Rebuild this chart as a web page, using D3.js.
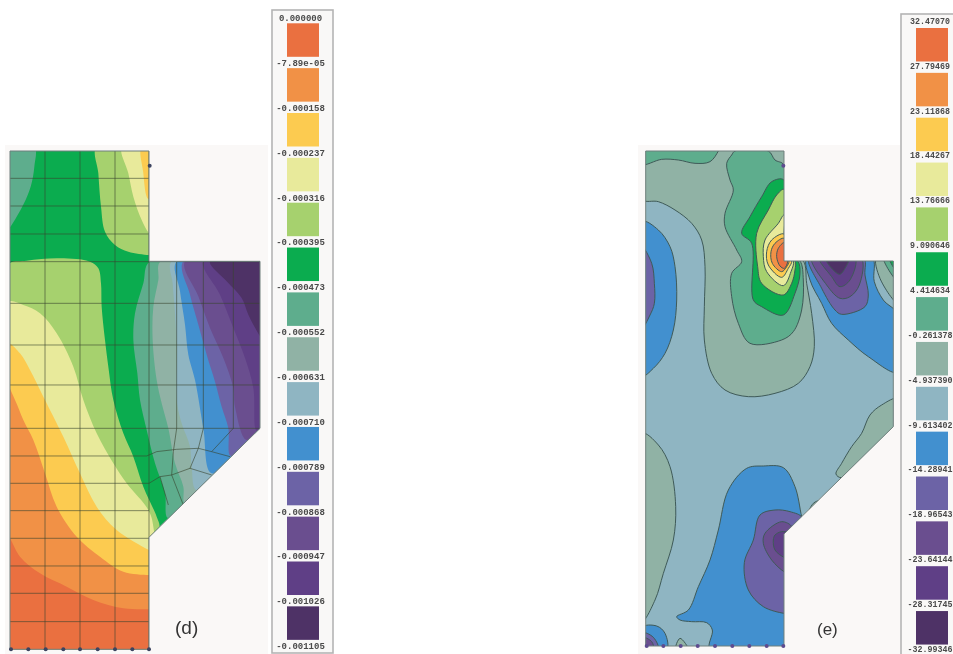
<!DOCTYPE html>
<html><head><meta charset="utf-8">
<script src="https://cdnjs.cloudflare.com/ajax/libs/d3/7.8.5/d3.min.js"></script>
<style>html,body{margin:0;padding:0;background:#fff;overflow:hidden}svg{display:block}</style>
</head><body><svg id="c" width="953" height="654"></svg>
<script>
// Band colours, highest level first
const bandColors = ["#EA7040","#F19146","#FCCB50","#E8EA9B","#A6D16E","#0BAC4F","#5EAD8D","#90B2A5","#8FB5C2","#4290CF","#6C63A6","#6A4E8F","#5F3F86","#4E3266"];
const levelsD = ["0.000000","-7.89e-05","-0.000158","-0.000237","-0.000316","-0.000395","-0.000473","-0.000552","-0.000631","-0.000710","-0.000789","-0.000868","-0.000947","-0.001026","-0.001105"];
const levelsE = ["32.47070","27.79469","23.11868","18.44267","13.76666","9.090646","4.414634","-0.261378","-4.937390","-9.613402","-14.28941","-18.96543","-23.64144","-28.31745","-32.99346"];

// Specimen outlines (model units)
const outlineD = [[30,33],[447,33],[447,364],[780,364],[780,865],[447,1192],[447,1528],[30,1528]];
const outlineE = [[32,33],[447,33],[447,363],[775,363],[775,860],[447,1182],[447,1518],[32,1518]];

// Panel (d): contour regions [band, boundary], painted in order over base band 5
const regionsD = [
 [6,[[20,20],[103,20],[103,80],[92,140],[72,190],[50,230],[30,262],[20,275]]],
 [4,[[290,20],[295,100],[303,200],[315,275],[345,315],[385,335],[447,345],[470,345],[470,20]]],
 [3,[[366,20],[385,100],[400,170],[425,240],[447,280],[470,300],[470,20]]],
 [2,[[425,20],[430,100],[440,170],[447,178],[470,180],[470,20]]],
 [4,[[20,378],[80,362],[180,355],[270,365],[295,385],[303,430],[305,500],[315,600],[325,680],[340,780],[370,880],[400,950],[430,1040],[470,1130],[478,1162],[440,1210],[460,1540],[20,1540]]],
 [3,[[20,488],[70,495],[120,520],[170,580],[220,680],[250,780],[290,880],[340,970],[380,1030],[445,1110],[460,1160],[460,1540],[20,1540]]],
 [2,[[20,610],[60,640],[90,690],[130,770],[190,890],[240,1000],[290,1100],[350,1170],[447,1230],[470,1240],[470,1540],[20,1540]]],
 [1,[[20,735],[45,780],[70,840],[100,900],[135,1000],[170,1100],[230,1190],[300,1250],[370,1295],[447,1305],[470,1305],[470,1540],[20,1540]]],
 [0,[[20,1185],[60,1250],[120,1300],[200,1340],[280,1380],[370,1405],[447,1408],[470,1408],[470,1540],[20,1540]]],
 [6,[[450,364],[430,430],[405,520],[400,600],[412,700],[420,780],[440,870],[465,970],[495,1060],[505,1135],[800,840],[800,350]]],
 [7,[[482,364],[475,420],[460,500],[458,600],[470,720],[485,790],[505,865],[525,970],[550,1040],[555,1090],[800,840],[800,350]]],
 [8,[[515,364],[518,430],[525,520],[530,620],[530,780],[545,850],[570,920],[575,980],[590,1050],[800,840],[800,350]]],
 [9,[[530,364],[540,454],[555,554],[565,644],[585,720],[610,865],[635,1000],[800,840],[800,350]]],
 [10,[[550,364],[570,464],[595,554],[620,644],[645,725],[665,800],[685,865],[692,948],[800,840],[800,350]]],
 [11,[[555,364],[595,469],[630,564],[670,654],[700,744],[705,800],[740,900],[800,840],[800,350]]],
 [12,[[610,364],[660,464],[700,564],[735,654],[760,744],[770,872],[800,840],[800,350]]],
 [13,[[630,364],[680,424],[725,474],[745,524],[780,589],[800,620],[800,350]]]
];

// Panel (d): mesh polylines
const meshD = [
 [[30,115],[447,115]],[[30,198],[447,198]],[[30,282],[447,282]],[[30,365],[780,365]],
 [[30,490],[780,490]],[[30,615],[780,615]],[[30,735],[780,735]],[[30,865],[780,865]],
 [[30,948],[440,948],[470,935],[530,928],[595,925],[635,935],[690,950]],
 [[30,1030],[447,1030],[480,1010],[515,1005],[570,985],[635,1005]],
 [[30,1112],[447,1112]],[[480,1010],[505,1095]],
 [[30,1195],[447,1195]],[[30,1278],[447,1278]],[[30,1360],[447,1360]],[[30,1445],[447,1445]],
 [[135,33],[135,1528]],[[240,33],[240,1528]],[[345,33],[345,1528]],[[447,33],[447,1528]],
 [[530,365],[530,865],[520,935],[515,1005],[550,1095]],
 [[610,365],[610,865],[595,925],[570,985]],
 [[700,365],[700,865],[635,935]]
];

// Panel (e): contour regions, painted in order over base band 8
const regionsE = [
 [7,[[20,178],[70,185],[120,210],[170,250],[200,300],[210,380],[208,500],[208,600],[230,700],[270,750],[340,770],[420,760],[490,730],[525,680],[538,620],[530,520],[515,430],[505,363],[460,340],[460,20],[20,20]]],
 [6,[[20,73],[80,58],[130,60],[180,70],[225,65],[250,33],[255,20],[20,20]]],
 [6,[[290,45],[275,70],[285,120],[295,150],[270,220],[270,260],[305,330],[320,365],[290,400],[290,470],[310,550],[345,610],[440,600],[475,575],[500,510],[505,420],[495,363],[460,345],[447,75],[420,60],[400,33],[300,33]]],
 [5,[[447,120],[410,125],[380,170],[345,230],[320,280],[350,310],[355,480],[380,500],[445,525],[480,460],[495,400],[488,363],[450,350]]],
 [4,[[447,148],[425,165],[400,210],[365,280],[368,380],[380,430],[445,465],[470,430],[480,390],[480,363],[450,350]]],
 [3,[[447,225],[430,250],[390,300],[385,350],[395,395],[445,437],[468,395],[475,363],[450,350]]],
 [2,[[447,282],[410,300],[395,335],[400,375],[440,412],[460,385],[470,363],[450,350]]],
 [1,[[447,295],[420,310],[408,335],[412,370],[440,395],[455,380],[462,363],[450,350]]],
 [0,[[447,308],[430,325],[425,350],[435,378],[448,385],[458,363],[450,350]]],
 [9,[[20,245],[70,270],[105,320],[120,380],[125,480],[115,570],[90,640],[55,685],[20,708]]],
 [10,[[20,320],[50,370],[58,430],[58,490],[45,525],[20,565]]],
 [9,[[517,350],[525,420],[560,490],[590,550],[640,600],[700,650],[790,697],[790,525],[745,480],[718,425],[710,350]]],
 [10,[[522,350],[560,445],[600,510],[620,523],[690,500],[700,465],[690,405],[685,350]]],
 [11,[[530,350],[575,435],[615,475],[645,470],[673,435],[677,350]]],
 [12,[[552,350],[590,410],[615,440],[645,420],[660,350]]],
 [13,[[570,350],[613,403],[630,385],[642,350]]],
 [7,[[725,350],[735,415],[790,490],[790,350]]],
 [6,[[745,350],[790,425],[790,350]]],
 [5,[[762,350],[790,400],[790,350]]],
 [7,[[20,880],[70,915],[105,980],[122,1100],[115,1200],[85,1300],[60,1380],[20,1445]]],
 [7,[[790,775],[740,795],[705,825],[680,880],[650,920],[620,970],[603,1002],[620,1013],[800,840]]],
 [7,[[518,1125],[535,1090],[560,1078],[580,1070],[530,1120]]],
 [9,[[125,1430],[160,1410],[190,1340],[225,1260],[250,1170],[280,1050],[335,985],[385,978],[445,983],[480,1040],[500,1130],[510,1170],[460,1190],[460,1530],[225,1530],[232,1470],[215,1448],[170,1445],[135,1440]]],
 [10,[[500,1132],[465,1115],[420,1110],[375,1125],[355,1200],[328,1268],[340,1350],[385,1400],[447,1420],[460,1420],[460,1180]]],
 [11,[[440,1145],[390,1180],[385,1210],[410,1260],[447,1295],[460,1300],[460,1180],[470,1160]]],
 [12,[[420,1185],[415,1200],[420,1230],[447,1252],[460,1255],[460,1180],[440,1175]]],
 [9,[[20,1462],[65,1458],[90,1480],[95,1530],[20,1530]]],
 [10,[[20,1478],[55,1492],[70,1530],[20,1530]]],
 [11,[[20,1492],[50,1505],[55,1530],[20,1530]]],
 [7,[[122,1530],[135,1495],[160,1530]]]
];

// Boundary-condition nodes
const nodesDX = [33,85,137,190,240,293,345,397,447];
const nodesEX = [35,85,137,188,240,292,343,395,445];
const svg = d3.select("#c");
const defs = svg.append("defs");
defs.append("filter").attr("id","soft").attr("x","-5%").attr("y","-5%").attr("width","110%").attr("height","110%")
  .attr("color-interpolation-filters","sRGB").append("feGaussianBlur").attr("stdDeviation",0.6);
defs.append("filter").attr("id","soft2").attr("color-interpolation-filters","sRGB").append("feGaussianBlur").attr("stdDeviation",0.5);

function panel(id, outline, regions, base, opt){
  const x = d3.scaleLinear().domain(opt.xd).range(opt.xr);
  const y = d3.scaleLinear().domain(opt.yd).range(opt.yr);
  const path = d3.line().x(p=>x(p[0])).y(p=>y(p[1]));
  const smooth = d3.line().x(p=>x(p[0])).y(p=>y(p[1])).curve(d3.curveCatmullRomClosed.alpha(0.5));
  svg.append("rect").attr("x",opt.bg[0]).attr("y",opt.bg[1]).attr("width",opt.bg[2]).attr("height",opt.bg[3]).attr("fill","#FAF8F7");
  defs.append("clipPath").attr("id","clip"+id).append("path").attr("d",path(outline)+"Z");
  const g = svg.append("g").attr("filter","url(#soft)");
  const c = g.append("g").attr("clip-path","url(#clip"+id+")");
  c.append("path").attr("d",path(outline)+"Z").attr("fill",bandColors[base]);
  c.selectAll("path.r").data(regions).join("path").attr("class","r")
    .attr("d",d=>smooth(d[1])).attr("fill",d=>bandColors[d[0]])
    .attr("stroke",opt.lines?"#3f5a58":"none").attr("stroke-width",opt.lines?1:0);
  if(opt.mesh) c.selectAll("path.m").data(opt.mesh).join("path").attr("class","m")
    .attr("d",path).attr("fill","none").attr("stroke","#39452f").attr("stroke-opacity",0.6).attr("stroke-width",1);
  g.append("path").attr("d",path(outline)+"Z").attr("fill","none").attr("stroke","#6f7f7c").attr("stroke-width",1);
  g.selectAll("circle").data(opt.nodes).join("circle").attr("cx",d=>x(d[0])).attr("cy",d=>y(d[1])).attr("r",2).attr("fill",opt.nodeColor);
}
panel("d",outlineD,regionsD,5,{xd:[30,780],xr:[10,260],yd:[33,1528],yr:[151,649.3],bg:[5,145,263,509],
  mesh:meshD,lines:false,nodeColor:"#3c4460",nodes:nodesDX.map(v=>[v,1528]).concat([[449,77]])});
panel("e",outlineE,regionsE,8,{xd:[32,775],xr:[645.7,893.3],yd:[33,1518],yr:[151,646],bg:[638,145,262,509],
  lines:true,nodeColor:"#5d4b8f",nodes:nodesEX.map(v=>[v,1518]).concat([[445,77]])});

function legend(levels, o){
  const g = svg.append("g");
  g.append("rect").attr("x",o.fx).attr("y",o.fy).attr("width",o.fw).attr("height",o.fh).attr("fill","#F9F8F7").attr("stroke","#b4b4b4").attr("stroke-width",1.6);
  const sy = d3.scaleLinear().domain([0,levels.length-1]).range([o.y0,o.y0+44.85*(levels.length-1)]);
  const s = g.append("g").attr("filter","url(#soft2)");
  s.selectAll("rect").data(levels.slice(0,-1)).join("rect").attr("x",o.sx).attr("width",32).attr("y",(d,i)=>sy(i)+o.off).attr("height",33.5).attr("fill",(d,i)=>bandColors[i]);
  const t = g.append("g").attr("filter","url(#soft2)");
  t.selectAll("text").data(levels).join("text").attr("x",o.tx).attr("y",(d,i)=>sy(i)).attr("dy","0.35em").attr("text-anchor","middle")
    .attr("font-family","'Liberation Mono','DejaVu Sans Mono',monospace").attr("font-size",o.fs).attr("font-weight","bold").attr("fill","#4a4a4a").text(d=>d);
}
legend(levelsD,{fx:272,fy:10,fw:61,fh:643,sx:287,y0:18,off:5.3,tx:300.5,fs:9});
legend(levelsE,{fx:901,fy:14,fw:60,fh:650,sx:916,y0:21,off:7,tx:930,fs:8.3});

const lab = svg.append("g").attr("filter","url(#soft2)").attr("font-family","'Liberation Sans',sans-serif").attr("fill","#333");
lab.append("text").attr("x",175).attr("y",634).attr("font-size",19).text("(d)");
lab.append("text").attr("x",817).attr("y",635).attr("font-size",17).text("(e)");
</script></body></html>
